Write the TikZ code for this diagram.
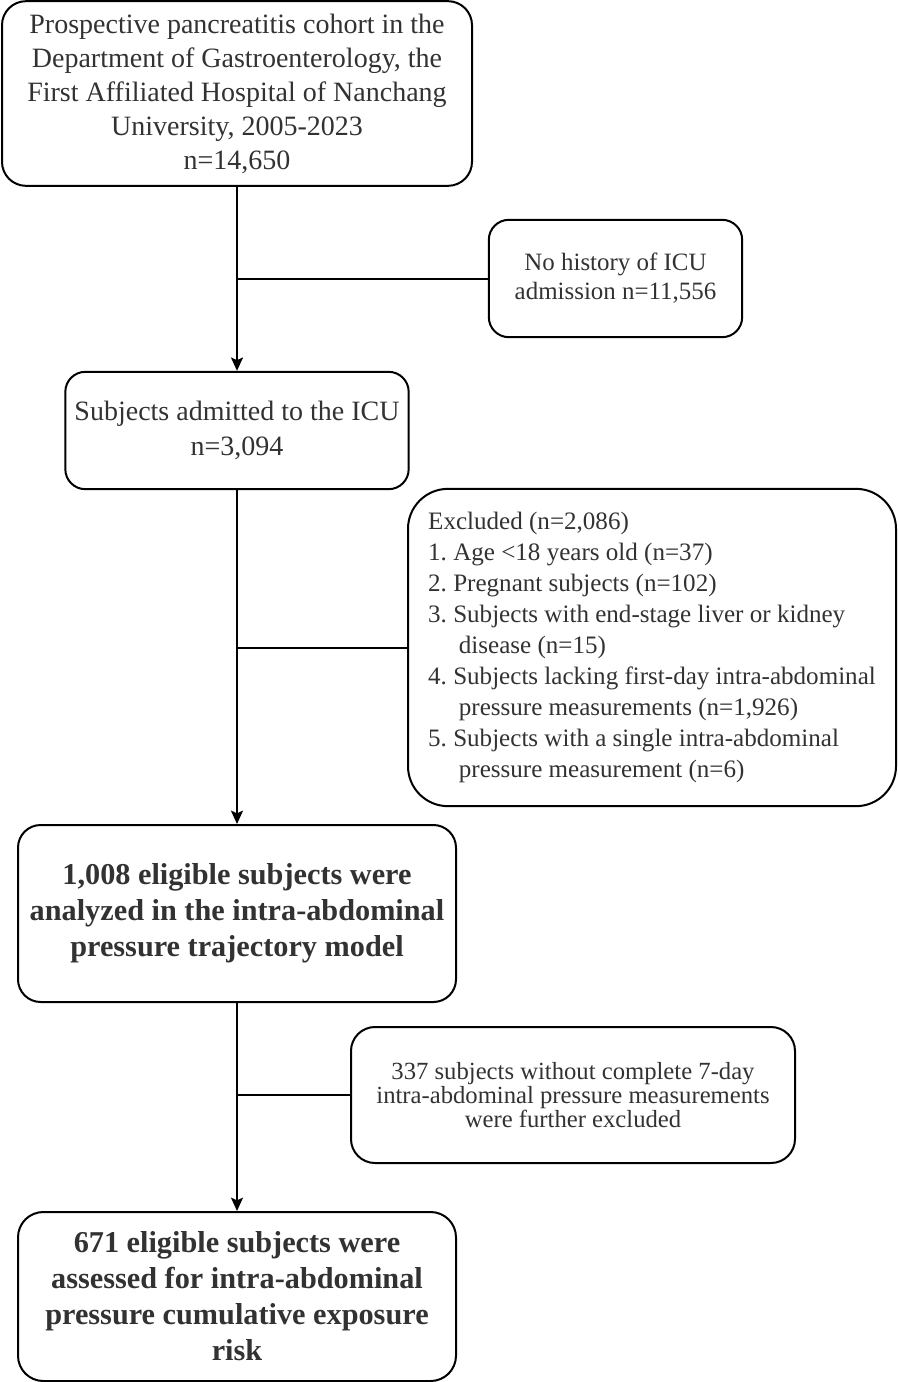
\documentclass[tikz,border=0pt]{standalone}
\usepackage{fontspec}
\setmainfont{Liberation Serif}
\usetikzlibrary{arrows.meta}
\frenchspacing

\definecolor{txtgray}{RGB}{50,50,50}

\tikzset{every picture/.style={line width=1.5pt}}
\tikzset{
  flowbox/.style={draw=black, rounded corners=18pt, align=center, text=txtgray, inner sep=0pt},
  flowarrow/.style={-{Stealth[length=10pt,width=9pt,inset=2pt]}}
}

\begin{document}
\begin{tikzpicture}[x=0.75pt,y=0.75pt,yscale=-1,xscale=1]
\useasboundingbox (0,0) rectangle (898,1382);

% Text Node
\node[flowbox, minimum width=352.5pt, minimum height=138.5pt, font=\fontsize{21}{25.5}\selectfont] (cohort) at (237,93.5) {Prospective pancreatitis cohort in the\\Department of Gastroenterology, the\\First Affiliated Hospital of Nanchang\\University, 2005-2023\\n=14,650};
% Text Node
\node[flowbox, rounded corners=15pt, minimum width=190pt, minimum height=88pt, font=\fontsize{18.7}{21.75}\selectfont] (noicu) at (615.5,278.5) {No history of ICU\\admission n=11,556};
% Text Node
\node[flowbox, rounded corners=15pt, minimum width=257.5pt, minimum height=88pt, font=\fontsize{21}{26}\selectfont] (icu) at (237,430.5) {Subjects admitted to the ICU\\n=3,094};
% Text Node
\node[flowbox, rounded corners=30pt, align=left, minimum width=366pt, minimum height=238pt, font=\fontsize{18.8}{23.2}\selectfont] (excl) at (652,647.5) {Excluded (n=2,086)\\
1. Age <18 years old (n=37)\\
2. Pregnant subjects (n=102)\\
3. Subjects with end-stage liver or kidney\\
\hspace*{23pt}disease (n=15)\\
4. Subjects lacking first-day intra-abdominal\\
\hspace*{23pt}pressure measurements (n=1,926)\\
5. Subjects with a single intra-abdominal\\
\hspace*{23pt}pressure measurement (n=6)};
% Text Node
\node[flowbox, rounded corners=17pt, minimum width=328.5pt, minimum height=132.75pt, font=\bfseries\fontsize{22.7}{27}\selectfont] (model) at (237,913.5) {1,008 eligible subjects were\\analyzed in the intra-abdominal\\pressure trajectory model};
% Text Node
\node[flowbox, minimum width=333pt, minimum height=102pt, font=\fontsize{18.5}{18}\selectfont] (week) at (573,1095) {337 subjects without complete 7-day\\intra-abdominal pressure measurements\\were further excluded};
% Text Node
\node[flowbox, rounded corners=19pt, minimum width=328.5pt, minimum height=126.75pt, font=\bfseries\fontsize{22.7}{27}\selectfont] (risk) at (237,1296.5) {671 eligible subjects were\\assessed for intra-abdominal\\pressure cumulative exposure\\risk};

% Arrows
\draw[flowarrow] (cohort) -- (icu);
\draw[flowarrow] (icu) -- (model);
\draw[flowarrow] (model) -- (risk);
% Straight Lines
\draw (noicu.west) -- (noicu.west -| cohort.south);
\draw (excl.west) -- (excl.west -| icu.south);
\draw (week.west) -- (week.west -| model.south);

\end{tikzpicture}
\end{document}
